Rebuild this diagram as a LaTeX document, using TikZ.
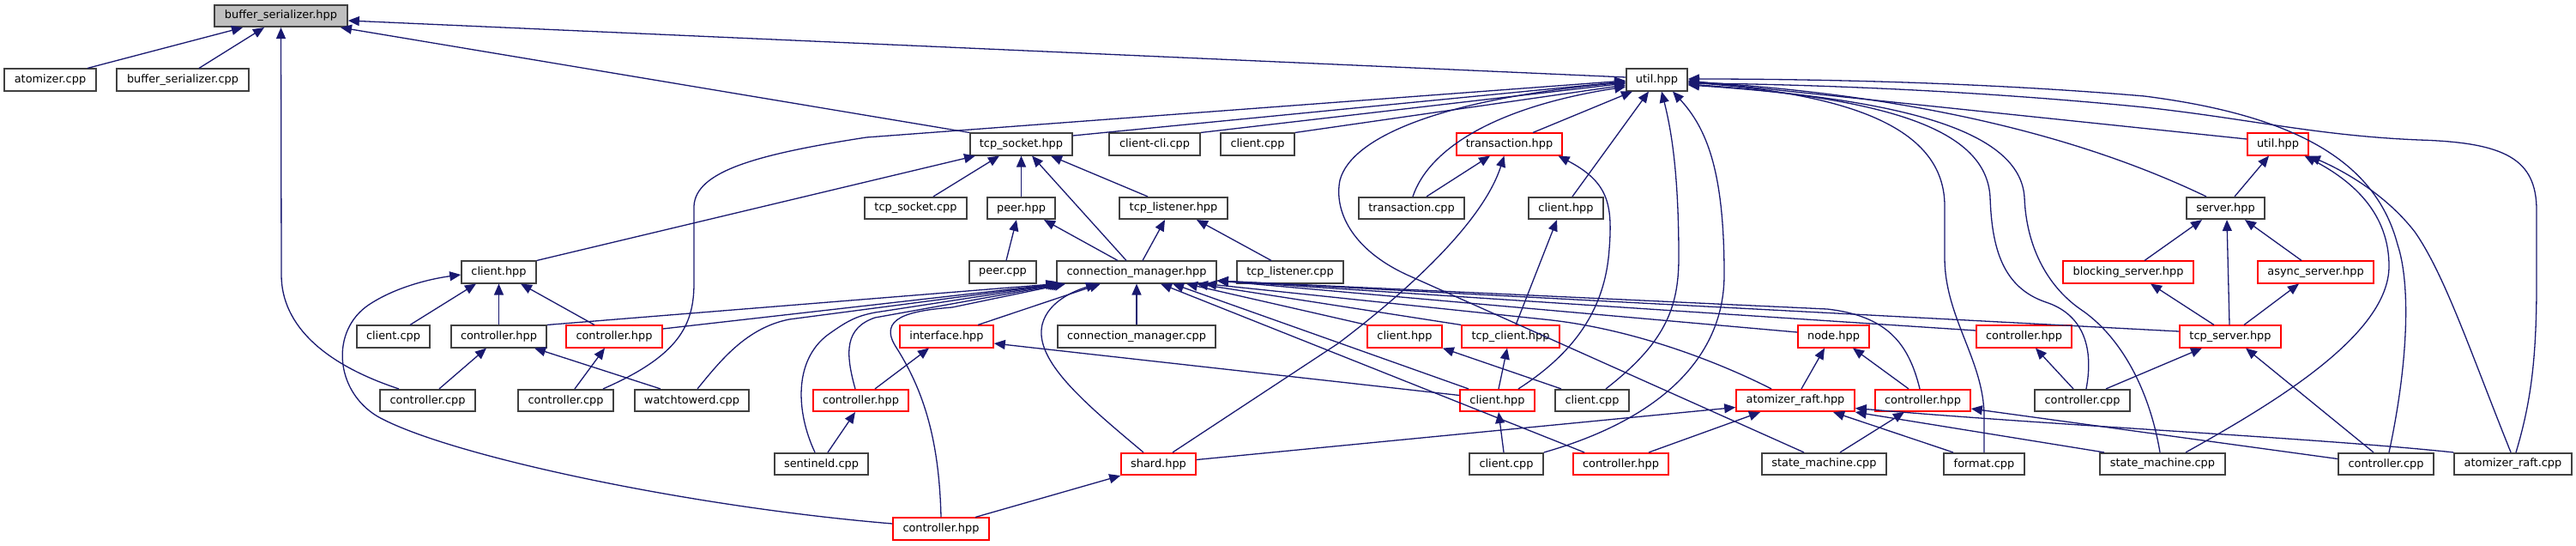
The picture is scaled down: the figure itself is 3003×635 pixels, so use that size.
\documentclass[tikz,border=0pt]{standalone}
\usepackage{fontspec}
\setmainfont{DejaVu Sans}
\usetikzlibrary{arrows.meta}
\definecolor{navy}{HTML}{191970}
\definecolor{boxgray}{HTML}{BFBFBF}
\definecolor{boxred}{HTML}{FF0000}
\definecolor{boxline}{HTML}{404040}
\begin{document}
\begin{tikzpicture}[x=1pt,y=-1pt,
  fb/.style={draw=boxline, line width=1.6pt, fill=white, minimum height=25.5pt, inner sep=0pt, font=\fontsize{12.9}{15}\selectfont, text=black},
  rb/.style={fb, draw=boxred},
  gb/.style={fb, fill=boxgray},
  edg/.style={draw=navy, line width=1.3pt, -{Triangle[length=13pt,width=11pt]}}]
\useasboundingbox[fill=white] (0,0) rectangle (3003,635);
% row 0
\node[gb, minimum width=155pt] (bs) at (327.5,18.5) {buffer\_serializer.hpp};
% row 1
\node[fb, minimum width=107pt] (atomcpp) at (58.5,93) {atomizer.cpp};
\node[fb, minimum width=154pt] (bscpp) at (213,93) {buffer\_serializer.cpp};
\node[fb, minimum width=71pt] (util) at (1931.5,93) {util.hpp};
% row 2
\node[fb, minimum width=119pt] (tcpsock) at (1190.5,168) {tcp\_socket.hpp};
\node[fb, minimum width=106pt] (clicli) at (1346,168) {client-cli.cpp};
\node[fb, minimum width=86pt] (clientcppB) at (1466,168) {client.cpp};
\node[rb, minimum width=123pt] (txhpp) at (1759.5,168) {transaction.hpp};
\node[rb, minimum width=71pt] (utilR) at (2655.5,168) {util.hpp};
% row 3
\node[fb, minimum width=119pt] (tcpsockcpp) at (1067.5,242.5) {tcp\_socket.cpp};
\node[fb, minimum width=79pt] (peerhpp) at (1190.5,242.5) {peer.hpp};
\node[fb, minimum width=126pt] (tcplist) at (1368,242.5) {tcp\_listener.hpp};
\node[fb, minimum width=123pt] (txcpp) at (1645.5,242.5) {transaction.cpp};
\node[fb, minimum width=87pt] (clienthppC) at (1825.5,242.5) {client.hpp};
\node[fb, minimum width=91pt] (serverhpp) at (2594.5,242.5) {server.hpp};
% row 4
\node[fb, minimum width=87pt] (clienthppD) at (581.5,317) {client.hpp};
\node[fb, minimum width=78pt] (peercpp) at (1169,317) {peer.cpp};
\node[fb, minimum width=186pt] (cm) at (1325,317) {connection\_manager.hpp};
\node[fb, minimum width=124pt] (tcplistcpp) at (1504,317) {tcp\_listener.cpp};
\node[rb, minimum width=152pt] (blocking) at (2481,317) {blocking\_server.hpp};
\node[rb, minimum width=135pt] (async) at (2699.5,317) {async\_server.hpp};
% row 5
\node[fb, minimum width=85pt] (clientcppE) at (458.5,392) {client.cpp};
\node[fb, minimum width=111pt] (ctrlA) at (581.5,392) {controller.hpp};
\node[rb, minimum width=112pt] (ctrlB) at (716,392) {controller.hpp};
\node[rb, minimum width=109pt] (iface) at (1103.5,392) {interface.hpp};
\node[fb, minimum width=184pt] (cmcpp) at (1325,392) {connection\_manager.cpp};
\node[rb, minimum width=87pt] (clienthppF) at (1637.5,392) {client.hpp};
\node[rb, minimum width=114pt] (tcpclient) at (1761,392) {tcp\_client.hpp};
\node[rb, minimum width=83pt] (nodehpp) at (2137.5,392) {node.hpp};
\node[rb, minimum width=111pt] (ctrlC) at (2359.5,392) {controller.hpp};
\node[rb, minimum width=118pt] (tcpserver) at (2600,392) {tcp\_server.hpp};
% row 6
\node[fb, minimum width=111pt] (ctrlcppA) at (498.5,466.5) {controller.cpp};
\node[fb, minimum width=111pt] (ctrlcppB) at (659.5,466.5) {controller.cpp};
\node[fb, minimum width=133pt] (watch) at (806.5,466.5) {watchtowerd.cpp};
\node[rb, minimum width=111pt] (ctrlD) at (1003.5,466.5) {controller.hpp};
\node[rb, minimum width=87pt] (clienthppG) at (1745.5,466.5) {client.hpp};
\node[fb, minimum width=86pt] (clientcppH) at (1856,466.5) {client.cpp};
\node[rb, minimum width=138pt] (araft) at (2093,466.5) {atomizer\_raft.hpp};
\node[rb, minimum width=111pt] (ctrlE) at (2241.5,466.5) {controller.hpp};
\node[fb, minimum width=111pt] (ctrlcppC) at (2427.5,466.5) {controller.cpp};
% row 7
\node[fb, minimum width=109pt] (sentinel) at (957.5,540.5) {sentineld.cpp};
\node[rb, minimum width=87pt] (shard) at (1350.5,540.5) {shard.hpp};
\node[fb, minimum width=86pt] (clientcppI) at (1756,540.5) {client.cpp};
\node[rb, minimum width=111pt] (ctrlF) at (1889.5,540.5) {controller.hpp};
\node[fb, minimum width=145pt] (sm1) at (2126.5,540.5) {state\_machine.cpp};
\node[fb, minimum width=94pt] (format) at (2313,540.5) {format.cpp};
\node[fb, minimum width=146pt] (sm2) at (2521,540.5) {state\_machine.cpp};
\node[fb, minimum width=111pt] (ctrlcppD) at (2781.5,540.5) {controller.cpp};
\node[fb, minimum width=137pt] (araftcpp) at (2929.5,540.5) {atomizer\_raft.cpp};
% row 8
\node[rb, minimum width=112pt] (ctrlG) at (1097,616) {controller.hpp};

% ---- edges to buffer_serializer.hpp
\draw[edg] ([xshift=43.5pt]atomcpp.north) -- ([xshift=-44.5pt]bs.south);
\draw[edg] ([xshift=19pt]bscpp.north) -- ([xshift=-19.5pt]bs.south);
\draw[edg] ([yshift=3pt]util.west) -- ([yshift=-5.5pt]bs.east);
\draw[edg] (tcpsock.north west) -- ([xshift=69.5pt]bs.south);
\draw[edg] ([xshift=-33.5pt]ctrlcppA.north) .. controls (380,425) and (328,380) .. (328,320) -- (bs.south);
% ---- edges to util.hpp
\draw[edg] ([yshift=10pt]tcpsock.east) -- ([yshift=-2pt]util.west);
\draw[edg] (clicli.north east) -- ([yshift=-4pt]util.west);
\draw[edg] (clientcppB.north east) -- ([yshift=-6pt]util.west);
\draw[edg] ([xshift=27.5pt]txhpp.north) -- ([xshift=-28.5pt]util.south);
\draw[edg] ([xshift=1.5pt]txcpp.north) .. controls (1665,175) and (1740,125) .. ([yshift=-8pt]util.west);
\draw[edg] ([xshift=7.5pt]clienthppC.north) -- ([xshift=-9.5pt]util.south);
\draw[edg] ([xshift=43.5pt]ctrlcppB.north) .. controls (790,415) and (809,380) .. (809,330) -- (809,240) .. controls (811,200) and (880,180) .. (1010,160) -- ([yshift=-1pt]util.west);
\draw[edg] ([xshift=-23.5pt]sm1.north) -- (1640,320) .. controls (1575,290) and (1555,245) .. (1562,210) .. controls (1575,160) and (1680,115) .. ([yshift=-3pt]util.west);
\draw[edg] ([xshift=16pt]clientcppH.north) .. controls (1940,400) and (1957,360) .. (1957,300) .. controls (1957,200) and (1948,150) .. ([xshift=5.5pt]util.south);
\draw[edg] (clientcppI.north east) .. controls (1930,490) and (2010,420) .. (2010,320) .. controls (2010,200) and (1990,150) .. ([xshift=18.5pt]util.south);
\draw[edg] ([xshift=-22.5pt]serverhpp.north) .. controls (2480,185) and (2300,115) .. ([yshift=-2pt]util.east);
\draw[edg] ([yshift=6pt]utilR.west) -- ([yshift=-1pt]util.east);
\draw[edg] ([xshift=3.5pt]ctrlcppD.north) .. controls (2808,420) and (2810,330) .. (2795,285) .. controls (2770,190) and (2680,135) .. (2500,112) .. controls (2300,95) and (2100,92) .. ([yshift=1pt]util.east);
\draw[edg] ([xshift=3.5pt]araftcpp.north) .. controls (2950,470) and (2957,420) .. (2957,330) -- (2957,245) .. controls (2957,185) and (2920,166) .. (2820,163) .. controls (2700,158) and (2620,138) .. (2500,125) .. controls (2300,105) and (2100,98) .. ([yshift=-4pt]util.east);
\draw[edg] (format.north) -- (2313,485) .. controls (2313,420) and (2267,370) .. (2267,300) -- (2267,240) .. controls (2267,150) and (2160,110) .. ([yshift=-3pt]util.east);
\draw[edg] ([xshift=4.5pt]ctrlcppC.north) .. controls (2442,400) and (2425,365) .. (2385,352) .. controls (2335,335) and (2322,290) .. (2320,230) .. controls (2316,150) and (2200,115) .. ([yshift=-5pt]util.east);
\draw[edg] ([xshift=-3pt]sm2.north) .. controls (2505,450) and (2470,390) .. (2425,360) .. controls (2385,332) and (2362,285) .. (2360,230) .. controls (2355,150) and (2210,115) .. ([yshift=-6pt]util.east);
% ---- edges to util.hpp (red)
\draw[edg] ([xshift=10.5pt]serverhpp.north) -- ([xshift=-10.5pt]utilR.south);
\draw[edg] ([xshift=27pt]sm2.north) .. controls (2650,470) and (2785,390) .. (2785,310) .. controls (2785,250) and (2745,212) .. ([xshift=31pt]utilR.south);
\draw[edg] ([xshift=-2.5pt]araftcpp.north) .. controls (2880,410) and (2850,320) .. (2815,270) .. controls (2780,225) and (2730,198) .. (utilR.south east);
% ---- server side
\draw[edg] ([xshift=19pt]blocking.north) -- ([xshift=-27.5pt]serverhpp.south);
\draw[edg] ([xshift=-1pt]tcpserver.north) -- ([xshift=1.5pt]serverhpp.south);
\draw[edg] ([xshift=-16.5pt]async.north) -- ([xshift=22.5pt]serverhpp.south);
\draw[edg] ([xshift=-19pt]tcpserver.north) -- ([xshift=26pt]blocking.south);
\draw[edg] ([xshift=16pt]tcpserver.north) -- ([xshift=-19.5pt]async.south);
\draw[edg] ([xshift=27.5pt]ctrlcppC.north) -- ([xshift=-33pt]tcpserver.south);
\draw[edg] ([xshift=-14.5pt]ctrlcppD.north) -- ([xshift=18pt]tcpserver.south);
% ---- edges to connection_manager.hpp
\draw[edg] ([yshift=6pt]tcpserver.west) -- ([yshift=-10pt]cm.east);
\draw[edg] (ctrlA.north east) -- ([xshift=1pt]cm.south west);
\draw[edg] ([yshift=9pt]ctrlB.east) -- ([xshift=3pt]cm.south west);
\draw[edg] ([xshift=6.5pt]watch.north) .. controls (840,420) and (870,382) .. (920,372) -- ([xshift=5pt]cm.south west);
\draw[edg] ([xshift=-7.5pt]sentinel.north) .. controls (928,480) and (925,420) .. (965,390) .. controls (990,372) and (1000,368) .. (1020,364) -- ([xshift=7pt]cm.south west);
\draw[edg] ([xshift=-6.5pt]ctrlD.north) .. controls (985,410) and (985,382) .. (1020,370) -- ([xshift=9pt]cm.south west);
\draw[edg] (ctrlG.north) .. controls (1095,520) and (1080,460) .. (1045,405) .. controls (1022,370) and (1060,362) .. (1110,358) -- ([xshift=11pt]cm.south west);
\draw[edg] ([xshift=36.5pt]iface.north) -- ([xshift=-42pt]cm.south);
\draw[edg] ([xshift=-17.5pt]shard.north) .. controls (1265,470) and (1205,420) .. (1215,378) .. controls (1222,350) and (1255,338) .. ([xshift=-46pt]cm.south);
\draw[edg] (cmcpp) -- (cm);
\draw[edg] (clienthppF.north west) -- ([xshift=58pt]cm.south);
\draw[edg] (tcpclient.north west) -- ([xshift=70pt]cm.south);
\draw[edg] ([xshift=-33.5pt]clienthppG.north) -- ([xshift=42pt]cm.south);
\draw[edg] ([xshift=-42.5pt]ctrlF.north) -- ([xshift=28pt]cm.south);
\draw[edg] ([xshift=-28pt]araft.north) .. controls (2000,420) and (1900,382) .. (1800,372) -- ([xshift=80pt]cm.south);
\draw[edg] ([yshift=5pt]nodehpp.west) -- ([yshift=-10pt]cm.east);
\draw[edg] ([yshift=7pt]ctrlC.west) -- ([yshift=-10pt]cm.east);
\draw[edg] ([xshift=-3.5pt]ctrlE.north) .. controls (2225,400) and (2200,368) .. (2130,360) -- ([yshift=-10pt]cm.east);
% ---- edges to tcp_socket.hpp, peer.hpp, tcp_listener.hpp
\draw[edg] (clienthppD.north east) -- ([xshift=-53.5pt]tcpsock.south);
\draw[edg] ([xshift=20.5pt]tcpsockcpp.north) -- ([xshift=-25.5pt]tcpsock.south);
\draw[edg] (peerhpp) -- (tcpsock);
\draw[edg] ([xshift=-12pt]cm.north) -- ([xshift=12.5pt]tcpsock.south);
\draw[edg] ([xshift=-30pt]tcplist.north) -- ([xshift=34.5pt]tcpsock.south);
\draw[edg] ([xshift=4pt]peercpp.north) -- ([xshift=-5.5pt]peerhpp.south);
\draw[edg] ([xshift=-22pt]cm.north) -- ([xshift=26.5pt]peerhpp.south);
\draw[edg] ([xshift=7pt]cm.north) -- ([xshift=-10pt]tcplist.south);
\draw[edg] ([xshift=-22pt]tcplistcpp.north) -- ([xshift=27pt]tcplist.south);
% ---- transaction.hpp
\draw[edg] ([xshift=17.5pt]txcpp.north) -- ([xshift=-22.5pt]txhpp.south);
\draw[edg] ([xshift=16.5pt]shard.north) -- (1560,400) .. controls (1650,332) and (1730,255) .. ([xshift=-6pt]txhpp.south);
\draw[edg] ([xshift=24.5pt]clienthppG.north) .. controls (1845,405) and (1872,350) .. (1876,290) .. controls (1880,238) and (1875,212) .. ([xshift=57pt]txhpp.south);
% ---- client.hpp (mid)
\draw[edg] ([xshift=6pt]tcpclient.north) -- ([xshift=-10.5pt]clienthppC.south);
% ---- client.hpp (left)
\draw[edg] ([xshift=19.5pt]clientcppE.north) -- ([xshift=-26.5pt]clienthppD.south);
\draw[edg] (ctrlA) -- (clienthppD);
\draw[edg] ([xshift=-23pt]ctrlB.north) -- ([xshift=25.5pt]clienthppD.south);
\draw[edg] ([yshift=6pt]ctrlG.west) .. controls (800,590) and (520,530) .. (440,485) .. controls (390,455) and (385,385) .. (430,355) .. controls (460,335) and (500,325) .. ([yshift=-3pt]clienthppD.west);
% ---- controller.hpp row 5
\draw[edg] ([xshift=13.5pt]ctrlcppA.north) -- ([xshift=-14.5pt]ctrlA.south);
\draw[edg] ([xshift=-36.5pt]watch.north) -- ([xshift=41.5pt]ctrlA.south);
\draw[edg] ([xshift=10.5pt]ctrlcppB.north) -- ([xshift=-11pt]ctrlB.south);
\draw[edg] ([xshift=7.5pt]sentinel.north) -- ([xshift=-6.5pt]ctrlD.south);
\draw[edg] ([xshift=16.5pt]ctrlD.north) -- ([xshift=-20.5pt]iface.south);
\draw[edg] ([yshift=6pt]clienthppG.west) -- ([yshift=-8pt]iface.east);
\draw[edg] ([xshift=-3pt]clientcppI.north) -- ([xshift=1.5pt]clienthppG.south);
\draw[edg] ([xshift=1.5pt]clienthppG.north) -- ([xshift=-4pt]tcpclient.south);
\draw[edg] ([xshift=-36pt]clientcppH.north) -- (clienthppF.south east);
\draw[edg] ([xshift=40pt]ctrlG.north) -- (shard.south west);
% ---- atomizer_raft.hpp
\draw[edg] ([yshift=5pt]shard.east) -- ([yshift=-8pt]araft.west);
\draw[edg] ([xshift=32.5pt]ctrlF.north) -- ([xshift=-41pt]araft.south);
\draw[edg] ([xshift=-36pt]format.north) -- ([xshift=44pt]araft.south);
\draw[edg] ([xshift=-68pt]sm2.north) -- (araft.south east);
\draw[edg] (araftcpp.north west) .. controls (2700,510) and (2400,496) .. ([yshift=-9pt]araft.east);
% ---- node.hpp and others
\draw[edg] ([xshift=7pt]araft.north) -- ([xshift=-10.5pt]nodehpp.south);
\draw[edg] ([xshift=-16.5pt]ctrlE.north) -- ([xshift=22.5pt]nodehpp.south);
\draw[edg] ([xshift=18.5pt]sm1.north) -- ([xshift=-21.5pt]ctrlE.south);
\draw[edg] ([yshift=6pt]ctrlcppD.west) -- ([yshift=-9.5pt]ctrlE.east);
\draw[edg] ([xshift=-10.5pt]ctrlcppC.north) -- ([xshift=13.5pt]ctrlC.south);
\end{tikzpicture}
\end{document}
